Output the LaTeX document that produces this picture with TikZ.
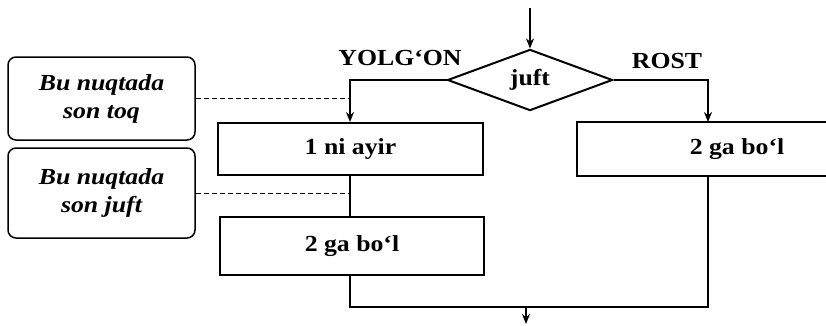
\documentclass[tikz,border=0pt]{standalone}
\usepackage{fontspec}
\setmainfont{Liberation Serif}[FakeStretch=1.12]
\usetikzlibrary{arrows.meta,shapes.geometric}
\begin{document}
\begin{tikzpicture}[x=1pt,y=-1pt,
  line width=2pt,
  font=\fontsize{23}{28}\selectfont\bfseries,
  arr/.style={-{Stealth[length=10pt,width=8pt]}},
  procbox/.style={draw,rectangle,inner sep=0pt},
  notebox/.style={draw,rectangle,rounded corners=8pt,line width=1.5pt,inner sep=0pt,
    align=center,font=\fontsize{23}{28}\selectfont\bfseries\itshape},
  lbl/.style={inner sep=0pt},
  dashline/.style={line width=1pt,dash pattern=on 5pt off 3pt}]
\useasboundingbox (0,0) rectangle (826,325);
\fill[white] (0,0) rectangle (826,325);
\begin{scope}
\clip (0,0) rectangle (826,325);
\coordinate (start) at (530,8);
\node[diamond,draw,minimum width=165pt,minimum height=60pt,inner sep=0pt] (d) at (530,80) {juft};
\node[procbox,minimum width=265pt,minimum height=52pt] (b1) at (350.5,149) {1 ni ayir};
\node[procbox,minimum width=264pt,minimum height=58pt] (b2) at (352,246) {2 ga bo‘l};
\node[procbox,minimum width=320pt,minimum height=54pt] (rb) at (737,149) {2 ga bo‘l};
\coordinate (rbin) at (708,122);
\coordinate (rbout) at (708,176);
\coordinate (join) at (526,307);
\coordinate (stop) at (526,324);
\node[notebox,minimum width=187pt,minimum height=83pt] (n1) at (101.5,98.5) {Bu nuqtada\\son toq};
\node[notebox,minimum width=187pt,minimum height=90pt] (n2) at (101.5,193) {Bu nuqtada\\son juft};
\node[lbl] (yl) at (400,58) {YOLG‘ON};
\node[lbl] (rl) at (667,61) {ROST};
\draw[arr] (start) -- (d.north);
\draw[arr] (d.west) -| (b1.north -| 350,0);
\draw[arr] (d.east) -| (rbin);
\draw (b1.south -| 350,0) -- (b2.north -| 350,0);
\draw (b2.south -| 350,0) |- (join) -| (rbout);
\draw[arr] (join) -- (stop);
\draw[dashline] (n1.east) -- (n1.east -| 350,0);
\draw[dashline] (n2.east) -- (n2.east -| 350,0);
\end{scope}
\end{tikzpicture}
\end{document}
